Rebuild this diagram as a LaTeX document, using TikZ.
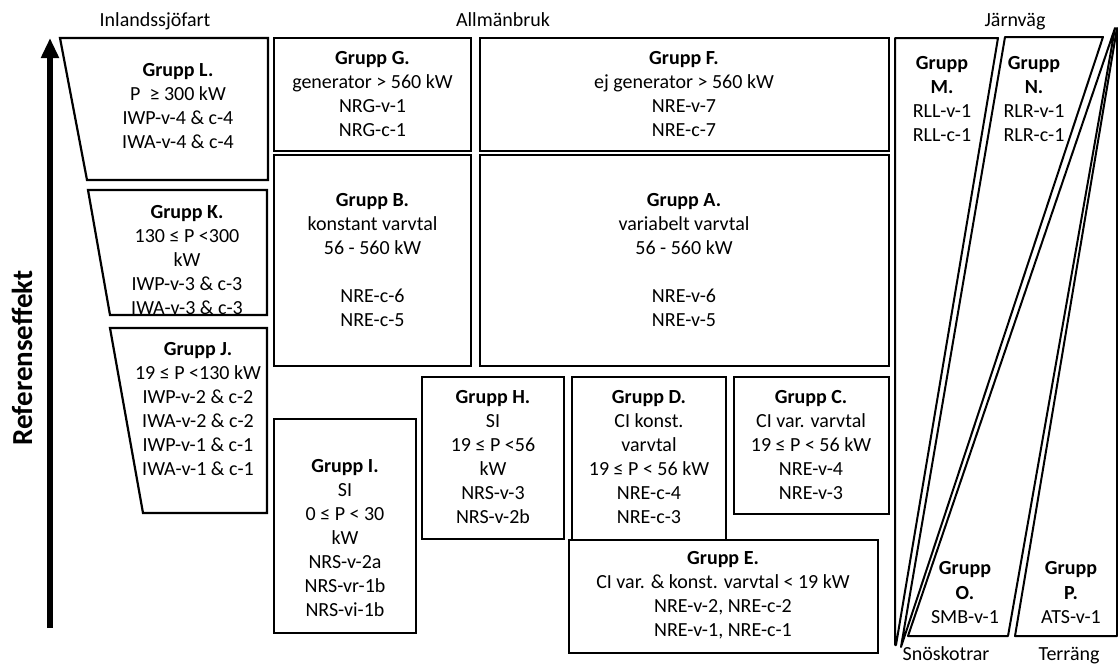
\documentclass[tikz,border=0pt]{standalone}
\usepackage{fontspec}
\setmainfont{Carlito}
\usetikzlibrary{arrows.meta}
\begin{document}
\begin{tikzpicture}[x=1pt,y=-1pt,
  box/.style={draw=black, line width=2.2pt},
  slant/.style={draw=black, line width=2pt, line join=round},
  txt/.style={align=center, font=\fontsize{20}{24}\selectfont, inner sep=0pt},
  headlbl/.style={font=\fontsize{20}{24}\selectfont, inner sep=0pt, anchor=base},
  axisarrow/.style={line width=6pt, -{Triangle[length=20pt,width=17pt]}}]
\useasboundingbox (0,0) rectangle (1118,664);
% headings
\node[headlbl] (hInl) at (155,26) {Inlandssjöfart};
\node[headlbl] (hAll) at (503,26) {Allmänbruk};
\node[headlbl] (hJarn) at (1015,26) {Järnväg};
\node[headlbl] (hSno) at (946,660) {Snöskotrar};
\node[headlbl] (hTer) at (1069,660) {Terräng};
% axis
\coordinate (axB) at (50,628);
\coordinate (axT) at (50,38);
\draw[axisarrow] (axB) -- (axT);
\node[rotate=90, font=\bfseries\fontsize{29}{32}\selectfont, inner sep=0pt] (ylab) at (22,358) {Referenseffekt};
% left trapezoids
\draw[box, line join=miter] (60,38) -- (268,38) -- (268,180) -- (87,180) -- cycle;
\draw[box, line join=miter] (88,190) -- (267,190) -- (267,315) -- (110,315) -- cycle;
\draw[box, line join=miter] (110,328) -- (267,328) -- (267,513) -- (143,513) -- cycle;
\node[txt] (tL) at (178,106) {\textbf{Grupp L.}\\P \ ≥ 300 kW\\IWP-v-4 \& c-4\\IWA-v-4 \& c-4};
\node[txt] (tK) at (187,260) {\textbf{Grupp K.}\\130 ≤ P <300\\kW\\IWP-v-3 \& c-3\\IWA-v-3 \& c-3};
\node[txt] (tJ) at (198,409) {\textbf{Grupp J.}\\19 ≤ P <130 kW\\IWP-v-2 \& c-2\\IWA-v-2 \& c-2\\IWP-v-1 \& c-1\\IWA-v-1 \& c-1};
% central boxes
\draw[box] (274,38) rectangle (471,151);
\draw[box] (480,38) rectangle (889,151);
\draw[box] (274,155) rectangle (471,366);
\draw[box] (480,155) rectangle (889,366);
\draw[box] (422,377) rectangle (564,539);
\draw[box] (572,377) rectangle (726,540);
\draw[box] (734,377) rectangle (889,514);
\draw[box] (274,419) rectangle (416,633);
\draw[box, fill=white] (569,540) rectangle (878,653);
\node[txt] (tG) at (372.5,94.5) {\textbf{Grupp G.}\\generator > 560 kW\\NRG-v-1\\NRG-c-1};
\node[txt] (tF) at (684,94.5) {\textbf{Grupp F.}\\ej generator > 560 kW\\NRE-v-7\\NRE-c-7};
\node[txt] (tB) at (372.5,260) {\textbf{Grupp B.}\\konstant varvtal\\56 - 560 kW\\[24pt]NRE-c-6\\NRE-c-5};
\node[txt] (tA) at (684,260) {\textbf{Grupp A.}\\variabelt varvtal\\56 - 560 kW\\[24pt]NRE-v-6\\NRE-v-5};
\node[txt] (tH) at (493,457.5) {\textbf{Grupp H.}\\SI\\19 ≤ P <56\\kW\\NRS-v-3\\NRS-v-2b};
\node[txt] (tD) at (649,457.5) {\textbf{Grupp D.}\\CI konst.\\varvtal\\19 ≤ P < 56 kW\\NRE-c-4\\NRE-c-3};
\node[txt] (tC) at (811,445.5) {\textbf{Grupp C.}\\CI var. varvtal\\19 ≤ P < 56 kW\\NRE-v-4\\NRE-v-3};
\node[txt] (tI) at (345,538) {\textbf{Grupp I.}\\SI\\0 ≤ P < 30\\kW\\NRS-v-2a\\NRS-vr-1b\\NRS-vi-1b};
\node[txt] (tE) at (723,595.5) {\textbf{Grupp E.}\\CI var. \& konst. varvtal < 19 kW\\NRE-v-2, NRE-c-2\\NRE-v-1, NRE-c-1};
% right column slanted shapes
\draw[slant] (895,38) -- (998,38) -- (896,645) -- (895,645) -- cycle;
\draw[slant] (1005,37) -- (1103,37) -- (901,647) -- cycle;
\draw[slant] (908,636) -- (1008,636) -- (1115,28) -- cycle;
\draw[slant] (1015,636) -- (1117,636) -- (1117,28) -- cycle;
\node[txt] (tM) at (942,99) {\textbf{Grupp}\\\textbf{M.}\\RLL-v-1\\RLL-c-1};
\node[txt] (tN) at (1034,99) {\textbf{Grupp}\\\textbf{N.}\\RLR-v-1\\RLR-c-1};
\node[txt] (tO) at (965,592.5) {\textbf{Grupp}\\\textbf{O.}\\SMB-v-1};
\node[txt] (tP) at (1071,592.5) {\textbf{Grupp}\\\textbf{P.}\\ATS-v-1};
\end{tikzpicture}
\end{document}
